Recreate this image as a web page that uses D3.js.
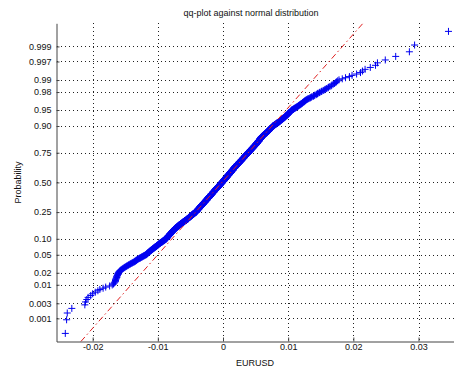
<!DOCTYPE html>
<html>
<head>
<meta charset="utf-8">
<script src="https://cdn.jsdelivr.net/npm/d3@7"></script>
<style>
  html, body { margin: 0; padding: 0; background: #fff; }
  svg { display: block; font-family: "Liberation Sans", Arial, Helvetica, sans-serif; }
</style>
</head>
<body>
<svg id="chart" width="454" height="372"></svg>
<script>
// Daily EURUSD returns, sorted, in pips (1 pip = 0.0001).
// Extreme observations are listed one by one; the body of the sample is
// tallied per pip, starting at bulkStartPip.
const lowTailPips = [-242, -240, -239, -232, -212, -211, -209, -207, -203, -200,
                     -196, -192, -189, -184, -180, -174];
const bulkStartPip = -170;
const bulkCountsPerPip = [
  1,0,1,1,1,3,2,3,2,3,2,1,2,1,              // -170 .. -157
  1,1,1,1,1,1,1,1,1,1,                      // -156 .. -147
  1,1,1,1,1,1,1,1,1,1,                      // -146 .. -137
  1,2,1,2,1,2,1,                            // -136 .. -130
  1,1,2,1,1,2,1,1,2,1,1,                    // -129 .. -119
  2,3,2,3,2,3,2,2,3,2,3,2,3,2,3,2,3,        // -118 .. -102
  3,3,3,3,3,3,2,3,3,3,3,3,3,3,              // -101 .. -88
  5,6,5,6,5,6,6,5,6,6,5,6,6,5,6,            // -87 .. -73
  5,5,5,5,5,5,4,5,5,5,5,5,5,5,4,5,5,        // -72 .. -56
  6,6,7,6,6,6,6,7,6,6,6,6,6,6,              // -55 .. -42
  10,9,10,9,10,10,9,10,10,9,10,10,9,10,10,10,10,               // -41 .. -25
  11,11,11,10,11,11,11,11,11,10,11,11,11,11,11,11,10,11,11,11,11,11,11, // -24 .. -2
  12,11,12,11,12,11,12,11,12,11,12,11,12,11,12,11,12,11,11,11,11,11,    // -1 .. 20
  9,10,9,9,10,9,9,10,9,9,10,9,9,10,9,9,9,9,                    // 21 .. 38
  8,8,8,8,8,8,8,8,8,8,7,8,8,8,8,8,8,8,8,8,8,                   // 39 .. 59
  5,5,5,5,5,5,4,5,5,5,5,5,5,5,4,5,5,        // 60 .. 76
  3,3,3,3,3,3,3,2,3,3,3,3,3,3,3,3,2,3,3,3,3,3,3,3,3,2,3,3,3,    // 77 .. 105
  2,1,2,1,2,1,2,1,2,1,2,1,2,1,2,1,2,1,2,1,2,1,                  // 106 .. 127
  1,1,1,1,0,1,1,1,1,0,1,1,1,1,0,1,1,1,1,0,1,                    // 128 .. 148
  1,0,1,1,0,1,0,1,1,0,1,0,1,                // 149 .. 161
  1,0,1,0,1,1,0,1,0,1,0,1,1,0,1,0,1         // 162 .. 178
];
const highTailPips = [183, 188, 194, 198, 205, 211, 214, 218, 226, 234,
                      237, 249, 265, 286, 294, 346];

const probTicks = [0.001, 0.003, 0.01, 0.02, 0.05, 0.10, 0.25, 0.50,
                   0.75, 0.90, 0.95, 0.98, 0.99, 0.997, 0.999];
const probTickLabels = ["0.001", "0.003", "0.01", "0.02", "0.05", "0.10", "0.25", "0.50",
                        "0.75", "0.90", "0.95", "0.98", "0.99", "0.997", "0.999"];
const xTicks = [-0.02, -0.01, 0, 0.01, 0.02, 0.03];
const xTickLabels = ["-0.02", "-0.01", "0", "0.01", "0.02", "0.03"];
const xDomain = [-0.02555, 0.0356];

const titleText = "qq-plot against normal distribution";
const xLabelText = "EURUSD";
const yLabelText = "Probability";

// Inverse of the standard normal CDF (Acklam's rational approximation).
function probit(p) {
  const a = [-3.969683028665376e+01, 2.209460984245205e+02, -2.759285104469687e+02,
             1.383577518672690e+02, -3.066479806614716e+01, 2.506628277459239e+00];
  const b = [-5.447609879822406e+01, 1.615858368580409e+02, -1.556989798598866e+02,
             6.680131188771972e+01, -1.328068155288572e+01];
  const c = [-7.784894002430293e-03, -3.223964580411365e-01, -2.400758277161838e+00,
             -2.549732539343734e+00, 4.374664141464968e+00, 2.938163982698783e+00];
  const d = [7.784695709041462e-03, 3.224671290700398e-01, 2.445134137142996e+00,
             3.754408661907416e+00];
  const pl = 0.02425, ph = 1 - pl;
  let q, r;
  if (p < pl) {
    q = Math.sqrt(-2 * Math.log(p));
    return (((((c[0]*q+c[1])*q+c[2])*q+c[3])*q+c[4])*q+c[5]) /
           ((((d[0]*q+d[1])*q+d[2])*q+d[3])*q+1);
  }
  if (p > ph) {
    q = Math.sqrt(-2 * Math.log(1 - p));
    return -(((((c[0]*q+c[1])*q+c[2])*q+c[3])*q+c[4])*q+c[5]) /
            ((((d[0]*q+d[1])*q+d[2])*q+d[3])*q+1);
  }
  q = p - 0.5; r = q * q;
  return (((((a[0]*r+a[1])*r+a[2])*r+a[3])*r+a[4])*r+a[5])*q /
         (((((b[0]*r+b[1])*r+b[2])*r+b[3])*r+b[4])*r+1);
}

// Assemble the sorted sample.
const returns = [];
lowTailPips.forEach(p => returns.push(p / 1e4));
bulkCountsPerPip.forEach((count, k) => {
  for (let j = 0; j < count; j++) returns.push((bulkStartPip + k) / 1e4);
});
highTailPips.forEach(p => returns.push(p / 1e4));
const n = returns.length;
const points = returns.map((v, i) => ({ v, z: probit((i + 0.5) / n) }));

// Plot area
const plotLeft = 56.5, plotRight = 455, plotTop = 23.3, plotBottom = 341.5;
const zMin = probit(0.25 / n), zMax = probit(1 - 0.25 / n);

const x = d3.scaleLinear().domain(xDomain).range([plotLeft, plotRight]);
const y = d3.scaleLinear().domain([zMin, zMax]).range([plotBottom, plotTop]);

const svg = d3.select("#chart");
const ink = "#111";

// Dotted grid
const grid = svg.append("g").attr("stroke", "#222").attr("stroke-width", 1)
  .attr("stroke-dasharray", "1,3").attr("shape-rendering", "crispEdges");
grid.selectAll("line.gx").data(xTicks).join("line").attr("class", "gx")
  .attr("x1", d => Math.round(x(d)) + 0.5).attr("x2", d => Math.round(x(d)) + 0.5)
  .attr("y1", plotTop).attr("y2", plotBottom);
grid.selectAll("line.gy").data(probTicks).join("line").attr("class", "gy")
  .attr("y1", d => Math.round(y(probit(d))) + 0.5).attr("y2", d => Math.round(y(probit(d))) + 0.5)
  .attr("x1", plotLeft).attr("x2", plotRight);

// Sample points as '+' markers
svg.append("g").attr("stroke", "#0000f0").attr("stroke-width", 1).attr("fill", "none")
  .selectAll("path").data(points).join("path")
  .attr("transform", d => `translate(${x(d.v)},${y(d.z)})`)
  .attr("d", "M-3.5,0H3.5M0,-3.5V3.5");

// Reference line through the first and third quartiles
const q1 = d3.quantile(returns, 0.25), q3 = d3.quantile(returns, 0.75);
const z1 = probit(0.25), z3 = probit(0.75);
const slope = (q3 - q1) / (z3 - z1);
const refLine = [zMin, zMax].map(z => ({ v: q1 + (z - z1) * slope, z }));
svg.append("path").datum(refLine)
  .attr("fill", "none").attr("stroke", "#e02020").attr("stroke-width", 1)
  .attr("stroke-dasharray", "6,3,1.5,3")
  .attr("d", d3.line().x(d => x(d.v)).y(d => y(d.z)));

// Axes
const yAxis = d3.axisLeft(y)
  .tickValues(probTicks.map(probit))
  .tickFormat((d, i) => probTickLabels[i])
  .tickSizeInner(-3).tickSizeOuter(0).tickPadding(5);
const gy = svg.append("g").attr("transform", `translate(${plotLeft},0)`).call(yAxis);

const xAxis = d3.axisBottom(x)
  .tickValues(xTicks)
  .tickFormat((d, i) => xTickLabels[i])
  .tickSizeInner(-4).tickSizeOuter(0).tickPadding(2.6);
const gx = svg.append("g").attr("transform", `translate(0,${plotBottom})`).call(xAxis);

[gx, gy].forEach(g => {
  g.select(".domain").attr("stroke", "#444").attr("stroke-width", 1);
  g.selectAll(".tick line").attr("stroke", "#444");
  g.selectAll(".tick text").attr("fill", ink).attr("font-size", 9)
    .attr("font-family", "'Liberation Sans', Arial, sans-serif");
});

// Title and axis labels
svg.append("text").attr("x", 251).attr("y", 16).attr("text-anchor", "middle")
  .attr("font-size", 9).attr("fill", ink).text(titleText);
svg.append("text").attr("x", 255).attr("y", 366).attr("text-anchor", "middle")
  .attr("font-size", 9).attr("fill", ink).text(xLabelText);
svg.append("text")
  .attr("transform", `translate(21,${(plotTop + plotBottom) / 2}) rotate(-90)`)
  .attr("text-anchor", "middle").attr("font-size", 9).attr("fill", ink)
  .text(yLabelText);
</script>
</body>
</html>
